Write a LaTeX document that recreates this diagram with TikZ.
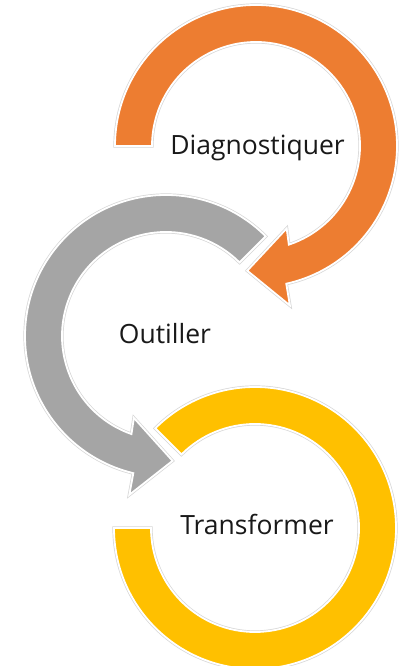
\documentclass[tikz,border=0pt]{standalone}
\usepackage{fontspec}
\setmainfont{Open Sans}
\definecolor{arrOrange}{HTML}{ED7D31}
\definecolor{arrGray}{HTML}{A5A5A5}
\definecolor{arrYellow}{HTML}{FFC000}
\begin{document}
\begin{tikzpicture}[x=1pt,y=1pt,
  ring/.style={fill=#1, draw=white, line width=1.8pt, line join=miter,
    preaction={draw=black!16, line width=3.2pt, line join=miter}},
  label/.style={anchor=base, font=\fontsize{26.5}{30}\selectfont, text=black!90, inner sep=0pt}]
\fill[white] (0,0) rectangle (406,666);
\useasboundingbox (0,0) rectangle (406,666);
\coordinate (O) at (256,520);
\coordinate (G) at (166,330);
\coordinate (Y) at (255,138);
% orange circular arrow
\path[ring=arrOrange] ([shift={(180:141pt)}]O)
  arc[start angle=180, end angle=-77.6, radius=141pt]
  -- ([shift={(-78:163pt)}]O)
  -- ([shift={(-94:125pt)}]O)
  -- ([shift={(-69.6:88pt)}]O)
  -- ([shift={(-71.6:104pt)}]O)
  arc[start angle=-71.6, end angle=180, radius=104pt] -- cycle;
% gray circular arrow
\path[ring=arrGray] ([shift={(45:141pt)}]G)
  arc[start angle=45, end angle=256.6, radius=141pt]
  -- ([shift={(257:163pt)}]G)
  -- ([shift={(273:125pt)}]G)
  -- ([shift={(248.6:88pt)}]G)
  -- ([shift={(250.6:104pt)}]G)
  arc[start angle=250.6, end angle=45, radius=104pt] -- cycle;
% yellow arc
\path[ring=arrYellow] ([shift={(180:141pt)}]Y)
  arc[start angle=180, end angle=495, radius=141pt]
  -- ([shift={(495:104pt)}]Y)
  arc[start angle=495, end angle=180, radius=104pt] -- cycle;
\node[label] (t1) at (257.5,511) {Diagnostiquer};
\node[label] (t2) at (165,322) {Outiller};
\node[label] (t3) at (257,131) {Transformer};
\end{tikzpicture}
\end{document}
